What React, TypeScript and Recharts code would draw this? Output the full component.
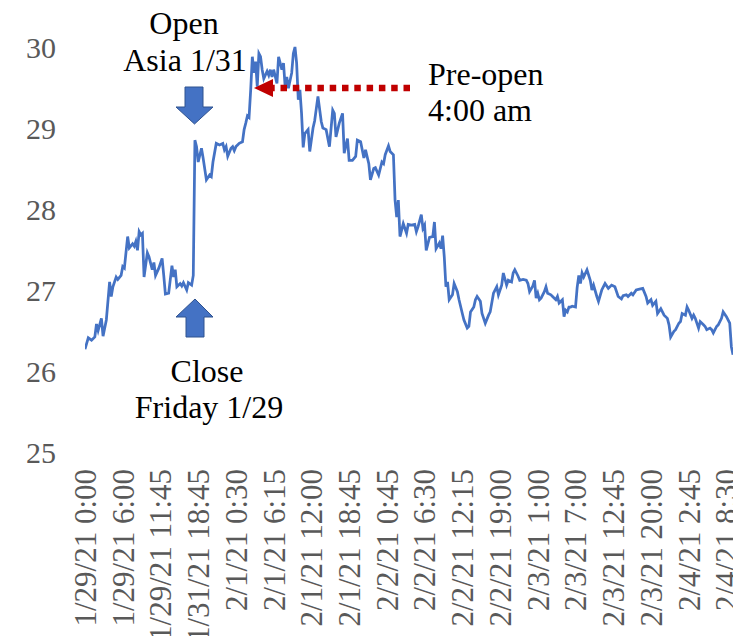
import React from "react";
import { LineChart, Line, XAxis, YAxis } from "recharts";

// 15-minute sample numbers (0 = 1/29/21 0:00) and the price read at each sample
const samples = [
  0, 2, 4, 6, 7, 8, 10, 11, 13, 15, 16, 17, 19, 20, 22, 23, 24, 26, 27, 29, 30, 31, 32, 33, 34, 35, 36, 38, 39, 41,
  42, 43, 45, 47, 48, 49, 51, 53, 54, 55, 56, 58, 59, 60, 62, 63, 65, 66, 67, 68, 69, 71, 72, 74, 76, 77, 78, 80, 82, 84,
  85, 86, 87, 89, 90, 91, 92, 93, 94, 96, 97, 98, 99, 100, 101, 102, 103, 104, 105, 106, 107, 108, 109, 111, 112, 113, 114, 115, 117, 118,
  119, 120, 121, 122, 123, 124, 126, 127, 128, 129, 130, 131, 132, 133, 134, 136, 137, 139, 140, 142, 144, 145, 147, 149, 151, 152, 153, 155, 157, 158,
  160, 161, 163, 165, 166, 168, 170, 171, 173, 174, 176, 177, 179, 181, 182, 183, 185, 186, 188, 189, 190, 191, 192, 194, 196, 197, 199, 201, 202, 203,
  205, 206, 207, 208, 210, 212, 213, 214, 216, 217, 218, 219, 220, 221, 222, 224, 225, 227, 228, 230, 231, 233, 234, 235, 237, 238, 239, 241, 242, 244,
  246, 247, 249, 251, 252, 254, 255, 257, 258, 260, 261, 262, 264, 265, 267, 269, 270, 271, 273, 274, 275, 276, 277, 278, 280, 281, 282, 284, 285, 287,
  288, 289, 291, 292, 293, 294, 295, 296, 297, 299, 300, 301, 302, 303, 304, 306, 308, 309, 310, 312, 313, 315, 317, 319, 321, 323, 325, 327, 328, 330,
  331, 333, 334, 336, 338, 340, 342, 343, 345, 346, 348, 349, 351, 353, 355, 356, 357, 359, 360, 362, 363, 364, 366, 367, 368, 370, 371, 372, 374, 375,
  377, 378, 379, 381, 382, 383, 385, 386, 388, 389, 391, 392, 393, 394, 395,
];
const prices = [
  26.27, 26.41, 26.38, 26.42, 26.58, 26.5, 26.65, 26.43, 26.63, 27.1, 26.92, 27.04, 27.16, 27.13, 27.18, 27.29, 27.27, 27.66, 27.52, 27.57, 27.54, 27.6, 27.49, 27.72, 27.68, 27.7, 27.16, 27.46, 27.41, 27.25,
  27.34, 27.18, 27.27, 27.39, 27.18, 26.95, 26.96, 27.3, 27.16, 27.25, 27.04, 27.08, 27.05, 27.09, 27.0, 27.09, 27.06, 27.18, 28.85, 28.77, 28.58, 28.75, 28.63, 28.36, 28.42, 28.4, 28.58, 28.81, 28.79, 28.81,
  28.73, 28.77, 28.65, 28.75, 28.77, 28.72, 28.77, 28.79, 28.81, 28.83, 28.98, 29.06, 29.15, 29.13, 29.47, 29.88, 29.68, 29.82, 29.51, 29.92, 29.88, 29.72, 29.61, 29.7, 29.65, 29.72, 29.63, 29.72, 29.55, 29.88,
  29.8, 29.72, 29.8, 29.51, 29.63, 29.49, 29.68, 29.92, 30.0, 29.8, 29.35, 29.47, 29.18, 28.76, 28.93, 28.98, 28.71, 29.0, 29.09, 29.39, 29.08, 29.0, 28.98, 28.77, 29.22, 29.18, 28.89, 29.06, 29.18, 28.69,
  28.87, 28.6, 28.6, 28.65, 28.85, 28.83, 28.63, 28.73, 28.56, 28.36, 28.5, 28.51, 28.42, 28.58, 28.56, 28.67, 28.78, 28.71, 28.67, 28.11, 27.9, 28.11, 27.66, 27.82, 27.7, 27.81, 27.8, 27.81, 27.72, 27.78,
  27.93, 27.76, 27.8, 27.49, 27.65, 27.66, 27.84, 27.51, 27.58, 27.51, 27.67, 27.41, 27.04, 27.1, 26.88, 26.94, 27.08, 26.98, 26.88, 26.71, 26.63, 26.53, 26.55, 26.73, 26.79, 26.88, 26.92, 26.86, 26.71, 26.59,
  26.69, 26.73, 26.96, 27.04, 26.94, 27.06, 27.21, 27.06, 27.12, 27.1, 27.21, 27.25, 27.17, 27.12, 27.13, 27.12, 27.08, 26.98, 27.05, 27.12, 26.9, 26.96, 26.88, 26.9, 26.98, 27.04, 26.96, 26.94, 26.92, 26.88,
  26.92, 26.84, 26.88, 26.67, 26.75, 26.73, 26.79, 26.79, 26.8, 26.79, 27.03, 27.18, 27.08, 27.21, 27.16, 27.25, 27.12, 27.0, 27.06, 26.92, 26.86, 27.0, 27.08, 27.02, 27.06, 27.04, 26.92, 26.89, 26.93, 26.94,
  26.92, 26.96, 26.94, 27.0, 27.01, 27.02, 26.92, 26.84, 26.88, 26.81, 26.86, 26.71, 26.77, 26.69, 26.65, 26.57, 26.42, 26.49, 26.51, 26.59, 26.61, 26.71, 26.69, 26.79, 26.75, 26.65, 26.69, 26.65, 26.53, 26.61,
  26.57, 26.55, 26.51, 26.53, 26.51, 26.47, 26.55, 26.57, 26.65, 26.73, 26.67, 26.63, 26.59, 26.3, 26.2,
];

// category labels, one every 23 samples
const tickLabels = [
  "1/29/21 0:00", "1/29/21 6:00", "1/29/21 11:45", "1/31/21 18:45", "2/1/21 0:30", "2/1/21 6:15",
  "2/1/21 12:00", "2/1/21 18:45", "2/2/21 0:45", "2/2/21 6:30", "2/2/21 12:15", "2/2/21 19:00",
  "2/3/21 1:00", "2/3/21 7:00", "2/3/21 12:45", "2/3/21 20:00", "2/4/21 2:45", "2/4/21 8:30",
];
const tickStep = 23;
const lastSample = 395;
const yTicks = [25, 26, 27, 28, 29, 30];

const data = samples.map((s, i) => ({ s, v: prices[i] }));
const xTicks = tickLabels.map((_, i) => i * tickStep);

const FONT = "'Liberation Serif', 'Times New Roman', serif";

const XTick = (props: any) => {
  const { x, y, payload } = props;
  const label = tickLabels[Math.round(payload.value / tickStep)] ?? "";
  return (
    <text
      x={x}
      y={y}
      transform={`rotate(-90 ${x} ${y})`}
      textAnchor="end"
      dy="0.35em"
      fill="#595959"
      fontSize={31}
      fontFamily={FONT}
    >
      {label}
    </text>
  );
};

const W = 725;
const H = 628;

export default function App() {
  return (
    <div style={{ paddingLeft: 8, paddingTop: 8, width: W, height: H }}>
      <style>{`html, body { margin: 0; padding: 0; overflow: hidden; }`}</style>
      <div style={{ position: "relative", width: W, height: H }}>
        <LineChart width={W} height={H} data={data} margin={{ top: 39, right: 0, bottom: 0, left: 0 }}>
          <XAxis
            dataKey="s"
            type="number"
            scale="linear"
            domain={[0, lastSample]}
            allowDataOverflow={true}
            ticks={xTicks}
            interval={0}
            axisLine={false}
            tickLine={false}
            tickSize={0}
            tickMargin={17}
            height={184}
            tick={<XTick />}
          />
          <YAxis
            domain={[25, 30]}
            ticks={yTicks}
            axisLine={false}
            tickLine={false}
            tickSize={0}
            tickMargin={29}
            width={77}
            tick={{ fill: "#595959", fontSize: 30, fontFamily: FONT }}
          />
          <Line
            type="linear"
            dataKey="v"
            stroke="#4472C4"
            strokeWidth={2.75}
            dot={false}
            isAnimationActive={false}
          />
        </LineChart>
        <svg
          width={W}
          height={H}
          style={{ position: "absolute", left: 0, top: 0, pointerEvents: "none", overflow: "visible" }}
          fontFamily={FONT}
        >
          <g fill="#000" fontSize={32} textAnchor="middle">
            <text x={176} y={26}>Open</text>
            <text x={177} y={63}>Asia 1/31</text>
            <text x={199} y={374}>Close</text>
            <text x={201} y={410}>Friday 1/29</text>
          </g>
          <g fill="#000" fontSize={32} textAnchor="start">
            <text x={420} y={77}>Pre-open</text>
            <text x={420} y={113}>4:00 am</text>
          </g>
          <polygon
            points="177,79 195,79 195,99 205,99 186.5,116 168,99 177,99"
            fill="#4472C4"
            stroke="#2F528F"
            strokeWidth={1}
          />
          <polygon
            points="187,291 205,309 196,309 196,329 178,329 178,309 168,309"
            fill="#4472C4"
            stroke="#2F528F"
            strokeWidth={1}
          />
          <line x1={402} y1={80} x2={265} y2={80} stroke="#C00000" strokeWidth={6.5} strokeDasharray="6.5 5.8" />
          <polygon points="246,80 265,71 265,89" fill="#C00000" />
        </svg>
      </div>
    </div>
  );
}
